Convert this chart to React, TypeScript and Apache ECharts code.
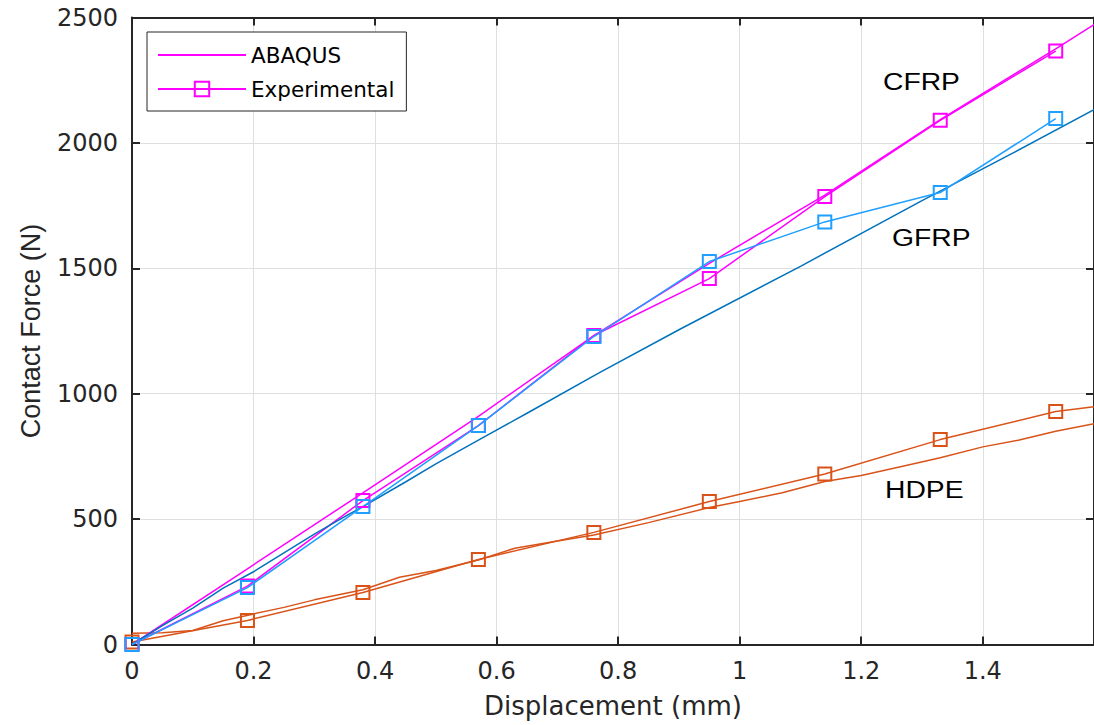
import React, { useEffect, useRef } from "react";
import * as echarts from "echarts";

// ---- data ----
const xAxisMax = 1.583;
const yAxisMax = 2500;
const xTickStep = 0.2;
const yTickStep = 500;

const cfrpAbaqus: [number, number][] = [
  [0, 0], [0.19, 302], [0.38, 605], [0.57, 910], [0.76, 1232], [0.95, 1520],
  [1.14, 1792], [1.33, 2093], [1.52, 2375], [1.583, 2472],
];
const cfrpExp: [number, number][] = [
  [0, 0], [0.19, 233], [0.38, 574], [0.57, 873], [0.76, 1232], [0.95, 1459],
  [1.14, 1786], [1.33, 2090], [1.52, 2366],
];
const gfrpAbaqus: [number, number][] = [
  [0, 0], [0.05, 75], [0.1, 145], [0.15, 225], [0.2, 290], [0.25, 365], [0.3, 440],
  [0.35, 510], [0.38, 550], [0.45, 648], [0.5, 720], [0.57, 815], [0.65, 922],
  [0.77, 1085], [0.9, 1255], [1.1, 1508], [1.3, 1770], [1.45, 1960], [1.583, 2133],
];
const gfrpExp: [number, number][] = [
  [0, 0], [0.19, 227], [0.38, 550], [0.57, 873], [0.76, 1228], [0.95, 1527],
  [1.14, 1685], [1.33, 1802], [1.52, 2097],
];
const hdpeAbaqus: [number, number][] = [
  [0, 45], [0.05, 47], [0.1, 56], [0.15, 95], [0.2, 122], [0.25, 148], [0.3, 178],
  [0.35, 203], [0.38, 218], [0.44, 268], [0.5, 295], [0.57, 337], [0.63, 384],
  [0.7, 413], [0.76, 437], [0.85, 486], [0.95, 546], [1.0, 570], [1.07, 605],
  [1.14, 650], [1.2, 674], [1.27, 712], [1.33, 745], [1.4, 788], [1.46, 815],
  [1.52, 850], [1.583, 880],
];
const hdpeExp: [number, number][] = [
  [0, 10], [0.19, 96], [0.38, 207], [0.57, 339], [0.76, 447], [0.95, 570],
  [1.14, 680], [1.33, 817], [1.52, 929],
];
const hdpeExpTail: [number, number] = [1.583, 948];

const labels = [
  { text: "CFRP", x: 883, y: 82 },
  { text: "GFRP", x: 892, y: 238 },
  { text: "HDPE", x: 885, y: 490 },
];

const MAGENTA = "#FF00FF";
const LIGHTBLUE = "#1F9FFF";
const DARKBLUE = "#0072BD";
const ORANGE = "#D95319";
const AXIS = "#262626";

function lineSeries(name: string, data: any[], color: string, withMarker: boolean) {
  return {
    name,
    type: "line",
    data,
    symbol: withMarker ? "rect" : "none",
    symbolSize: 13,
    showSymbol: withMarker,
    lineStyle: { color, width: 1.5 },
    itemStyle: withMarker
      ? { color: "rgba(0,0,0,0)", borderColor: color, borderWidth: 2 }
      : { color },
    emphasis: { disabled: true },
    clip: false,
  };
}

export default function App() {
  const ref = useRef<HTMLDivElement>(null);
  useEffect(() => {
    if (!ref.current) return;
    const chart = echarts.init(ref.current, undefined, { renderer: "svg" });
    const xFmt = (v: number) => {
      const k = v / xTickStep;
      if (Math.abs(k - Math.round(k)) > 1e-6) return "";
      return String(+v.toFixed(1));
    };
    const commonX = {
      type: "value",
      min: 0,
      max: xAxisMax,
      interval: xTickStep,
    };
    const commonY = {
      type: "value",
      min: 0,
      max: yAxisMax,
      interval: yTickStep,
    };
    const option: any = {
      animation: false,
      backgroundColor: "#fff",
      grid: { left: 132, right: 0, top: 17.5, bottom: 80.5, containLabel: false },
      legend: {
        data: [
          { name: "ABAQUS", itemStyle: { color: "rgba(0,0,0,0)", borderWidth: 0 } },
          { name: "Experimental" },
        ],
        orient: "vertical",
        left: 147,
        top: 32,
        padding: [11, 12, 10, 10],
        itemGap: 10,
        itemWidth: 88,
        itemHeight: 18,
        borderColor: AXIS,
        borderWidth: 1,
        backgroundColor: "#fff",
        selectedMode: false,
        textStyle: { fontFamily: "DejaVu Sans", fontSize: 21.5, color: "#000", lineHeight: 24 },
      },
      xAxis: [
        {
          ...commonX,
          position: "bottom",
          name: "Displacement (mm)",
          nameLocation: "middle",
          nameGap: 48,
          nameTextStyle: { fontFamily: "DejaVu Sans", fontSize: 26, color: AXIS },
          axisLine: { show: true, onZero: false, lineStyle: { color: AXIS, width: 2 } },
          axisTick: { show: true, inside: true, length: 8, lineStyle: { color: AXIS, width: 2 } },
          axisLabel: {
            formatter: xFmt,
            showMaxLabel: false,
            margin: 14,
            fontFamily: "DejaVu Sans",
            fontSize: 24,
            color: AXIS,
          },
          splitLine: { show: true, lineStyle: { color: "#DFDFDF", width: 1 } },
        },
        {
          ...commonX,
          position: "top",
          axisLine: { show: true, onZero: false, lineStyle: { color: AXIS, width: 2 } },
          axisTick: { show: true, inside: true, length: 8, lineStyle: { color: AXIS, width: 2 } },
          axisLabel: { show: false },
          splitLine: { show: false },
        },
      ],
      yAxis: [
        {
          ...commonY,
          position: "left",
          name: "Contact Force (N)",
          nameLocation: "middle",
          nameGap: 88,
          nameTextStyle: { fontFamily: "Liberation Sans", fontSize: 27, color: AXIS },
          axisLine: { show: true, onZero: false, lineStyle: { color: AXIS, width: 2 } },
          axisTick: { show: true, inside: true, length: 8, lineStyle: { color: AXIS, width: 2 } },
          axisLabel: {
            formatter: (v: number) => String(v),
            margin: 14,
            fontFamily: "DejaVu Sans",
            fontSize: 24,
            color: AXIS,
          },
          splitLine: { show: true, lineStyle: { color: "#DFDFDF", width: 1 } },
        },
        {
          ...commonY,
          position: "right",
          axisLine: { show: true, onZero: false, lineStyle: { color: AXIS, width: 2 } },
          axisTick: { show: true, inside: true, length: 8, lineStyle: { color: AXIS, width: 2 } },
          axisLabel: { show: false },
          splitLine: { show: false },
        },
      ],
      series: [
        lineSeries("ABAQUS HDPE", hdpeAbaqus, ORANGE, false),
        lineSeries(
          "Experimental HDPE",
          [...hdpeExp, { value: hdpeExpTail, symbol: "none" }],
          ORANGE,
          true
        ),
        lineSeries("ABAQUS", cfrpAbaqus, MAGENTA, false),
        lineSeries("Experimental", cfrpExp, MAGENTA, true),
        lineSeries("ABAQUS GFRP", gfrpAbaqus, DARKBLUE, false),
        lineSeries("Experimental GFRP", gfrpExp, LIGHTBLUE, true),
      ],
      graphic: labels.map((l) => ({
        type: "text",
        x: l.x,
        y: l.y,
        scaleX: 1.23,
        z: 100,
        style: {
          text: l.text,
          fontFamily: "Liberation Sans",
          fontSize: 23,
          fill: "#000",
          align: "left",
          verticalAlign: "middle",
        },
      })),
    };
    chart.setOption(option);
    return () => chart.dispose();
  }, []);
  return (
    <div
      ref={ref}
      style={{ position: "absolute", left: 0, top: 0, width: 1094, height: 725 }}
    />
  );
}
